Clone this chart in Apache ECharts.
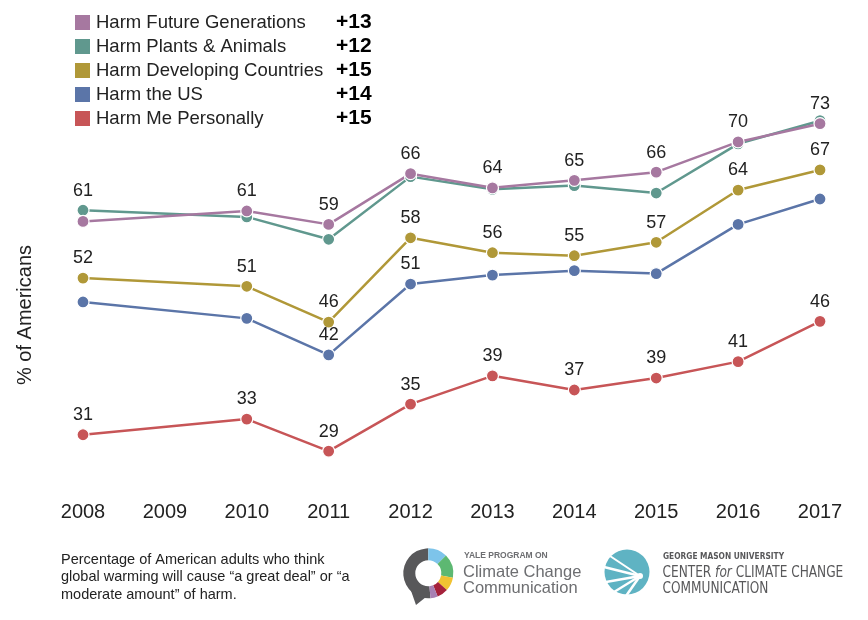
<!DOCTYPE html>
<html>
<head>
<meta charset="utf-8">
<script src="https://cdn.jsdelivr.net/npm/echarts@6/dist/echarts.min.js"></script>
<style>html,body{margin:0;padding:0;background:#fff;}#c{width:868px;height:620px;}</style>
</head>
<body>
<div id="c"></div>
<script>
const years = ['2008','2009','2010','2011','2012','2013','2014','2015','2016','2017'];
const futureGenerations = [59.8, null, 61.2, 59.4, 66.2, 64.3, 65.3, 66.4, 70.45, 72.9];
const plantsAnimals    = [61.3, null, 60.4, 57.4, 65.8, 64.1, 64.6, 63.6, 70.2, 73.3];
const developingCountries = [52.2, null, 51.1, 46.3, 57.6, 55.6, 55.2, 57.0, 64.0, 66.7];
const theUS            = [49.0, null, 46.8, 41.9, 51.4, 52.6, 53.2, 52.8, 59.4, 62.8];
const mePersonally     = [31.2, null, 33.3, 29.0, 35.3, 39.1, 37.2, 38.8, 41.0, 46.4];
const seriesNames = ['Harm Future Generations','Harm Plants & Animals','Harm Developing Countries','Harm the US','Harm Me Personally'];
const changes = ['+13','+12','+15','+14','+15'];
// indices of points that carry a value label
const labeledFuture = [2,3,4,5,6,7,8,9];
const labeledPlants = [0];
const labeledDeveloping = [0,2,3,4,5,6,7,8,9];
const labeledUS = [3,4];
const labeledPersonal = [0,2,3,4,5,6,7,8,9];

const colors = {
  'Harm Future Generations':'#a678a0',
  'Harm Plants & Animals':'#60988e',
  'Harm Developing Countries':'#b09838',
  'Harm the US':'#5b75a8',
  'Harm Me Personally':'#c75557'
};
const FONT = '"Liberation Sans", Arial, Helvetica, sans-serif';
const CFONT = '"DejaVu Sans Condensed", "DejaVu Sans", sans-serif';

function mk(name, vals, labeled) {
  return {
    name: name,
    type: 'line',
    connectNulls: true,
    symbol: 'circle',
    symbolSize: 12,
    color: colors[name],
    lineStyle: {width: 2.5, color: colors[name]},
    itemStyle: {color: colors[name], borderColor: '#fff', borderWidth: 1.2},
    emphasis: {disabled: true},
    label: {show: false, position: 'top', distance: 4, fontSize: 18, color: '#222', fontFamily: FONT,
            formatter: p => Math.round(p.value)},
    data: vals.map((v, i) => ({value: v, label: {show: labeled.indexOf(i) >= 0 && v != null}}))
  };
}

const chart = echarts.init(document.getElementById('c'), null, {renderer: 'canvas'});
const option = {
  animation: false,
  backgroundColor: '#fff',
  textStyle: {fontFamily: FONT},
  grid: {left: 83, right: 48, top: 70.7, bottom: 139},
  xAxis: {
    type: 'category', data: years, boundaryGap: false,
    axisLine: {show: false}, axisTick: {show: false}, splitLine: {show: false},
    axisLabel: {fontSize: 20, color: '#222', margin: 21, fontFamily: FONT}
  },
  yAxis: {type: 'value', min: 25, max: 80, show: false},
  legend: {
    orient: 'vertical', left: 73, top: 12, padding: 0,
    itemWidth: 17, itemHeight: 17, itemGap: 3, icon: 'rect',
    selectedMode: false,
    data: seriesNames,
    formatter: name => '{n|' + name + '}{v|' + changes[seriesNames.indexOf(name)] + '}',
    textStyle: {
      fontFamily: FONT,
      rich: {
        n: {width: 240, fontSize: 18.5, color: '#222', fontFamily: FONT, lineHeight: 18},
        v: {fontSize: 21, fontWeight: 'bold', color: '#000', fontFamily: FONT, lineHeight: 18}
      }
    }
  },
  series: [
    mk('Harm Me Personally', mePersonally, labeledPersonal),
    mk('Harm the US', theUS, labeledUS),
    mk('Harm Developing Countries', developingCountries, labeledDeveloping),
    mk('Harm Plants & Animals', plantsAnimals, labeledPlants),
    mk('Harm Future Generations', futureGenerations, labeledFuture)
  ],
  graphic: [
    {type: 'text', x: 25, y: 315, rotation: Math.PI / 2,
     style: {text: '% of Americans', fontSize: 20, fill: '#222', fontFamily: FONT, align: 'center', verticalAlign: 'middle'}},
    {type: 'text', x: 61, y: 551,
     style: {text: 'Percentage of American adults who think\nglobal warming will cause \u201ca great deal\u201d or \u201ca\nmoderate amount\u201d of harm.',
             fontSize: 14.5, lineHeight: 17.6, fill: '#222', fontFamily: FONT}},
    // Yale logo
    {type: 'polygon', shape: {points: [[409, 585], [426, 597], [416, 605]]}, style: {fill: '#58585a'}},
    {type: 'sector', shape: {cx: 428.3, cy: 573.3, r: 25, r0: 13, startAngle: Math.PI * 85 / 180, endAngle: Math.PI * 270 / 180}, style: {fill: '#58585a'}},
    {type: 'sector', shape: {cx: 428.3, cy: 573.3, r: 25, r0: 13, startAngle: -Math.PI / 2, endAngle: -Math.PI / 4}, style: {fill: '#7dc4ea'}},
    {type: 'sector', shape: {cx: 428.3, cy: 573.3, r: 25, r0: 13, startAngle: -Math.PI / 4, endAngle: Math.PI * 10 / 180}, style: {fill: '#5db872'}},
    {type: 'sector', shape: {cx: 428.3, cy: 573.3, r: 25, r0: 13, startAngle: Math.PI * 10 / 180, endAngle: Math.PI * 42 / 180}, style: {fill: '#f1c232'}},
    {type: 'sector', shape: {cx: 428.3, cy: 573.3, r: 25, r0: 13, startAngle: Math.PI * 42 / 180, endAngle: Math.PI * 68 / 180}, style: {fill: '#a5213b'}},
    {type: 'sector', shape: {cx: 428.3, cy: 573.3, r: 25, r0: 13, startAngle: Math.PI * 68 / 180, endAngle: Math.PI * 85 / 180}, style: {fill: '#a880b3'}},
    {type: 'text', x: 464, y: 556, style: {text: 'YALE PROGRAM ON', fontSize: 8.5, fontWeight: 'bold', fill: '#6d6e71', fontFamily: FONT, verticalAlign: 'middle'}},
    {type: 'text', x: 463, y: 572, style: {text: 'Climate Change', fontSize: 16.5, fill: '#6d6e71', fontFamily: FONT, verticalAlign: 'middle'}},
    {type: 'text', x: 463, y: 588, style: {text: 'Communication', fontSize: 16.5, fill: '#6d6e71', fontFamily: FONT, verticalAlign: 'middle'}},
    // GMU logo
    {type: 'circle', shape: {cx: 627, cy: 572, r: 22.5}, style: {fill: '#5fb3c3'}},
    {type: 'polyline', shape: {points: [[640, 576], [604, 567]]}, style: {stroke: '#fff', lineWidth: 2.5}},
    {type: 'polyline', shape: {points: [[640, 576], [606, 582]]}, style: {stroke: '#fff', lineWidth: 2.5}},
    {type: 'polyline', shape: {points: [[640, 576], [614, 592]]}, style: {stroke: '#fff', lineWidth: 2.5}},
    {type: 'polyline', shape: {points: [[640, 576], [626, 596]]}, style: {stroke: '#fff', lineWidth: 2.5}},
    {type: 'polyline', shape: {points: [[640, 576], [610, 556]]}, style: {stroke: '#fff', lineWidth: 2}},
    {type: 'circle', shape: {cx: 640, cy: 576, r: 3}, style: {fill: '#fff'}},
    {type: 'text', x: 663, y: 557, scaleX: 0.92, style: {text: 'GEORGE MASON UNIVERSITY', fontSize: 9, fontWeight: 'bold', fill: '#58585a', fontFamily: CFONT, verticalAlign: 'middle'}},
    {type: 'text', x: 662.5, y: 573, scaleX: 0.9, style: {text: 'CENTER {i|for} CLIMATE CHANGE', fontSize: 15, fill: '#58585a', fontFamily: CFONT, verticalAlign: 'middle',
      rich: {i: {fontStyle: 'italic', fontSize: 15, fill: '#58585a', fontFamily: CFONT}}}},
    {type: 'text', x: 662.5, y: 589, scaleX: 0.9, style: {text: 'COMMUNICATION', fontSize: 15, fill: '#58585a', fontFamily: CFONT, verticalAlign: 'middle'}}
  ]
};
chart.setOption(option);
</script>
</body>
</html>
